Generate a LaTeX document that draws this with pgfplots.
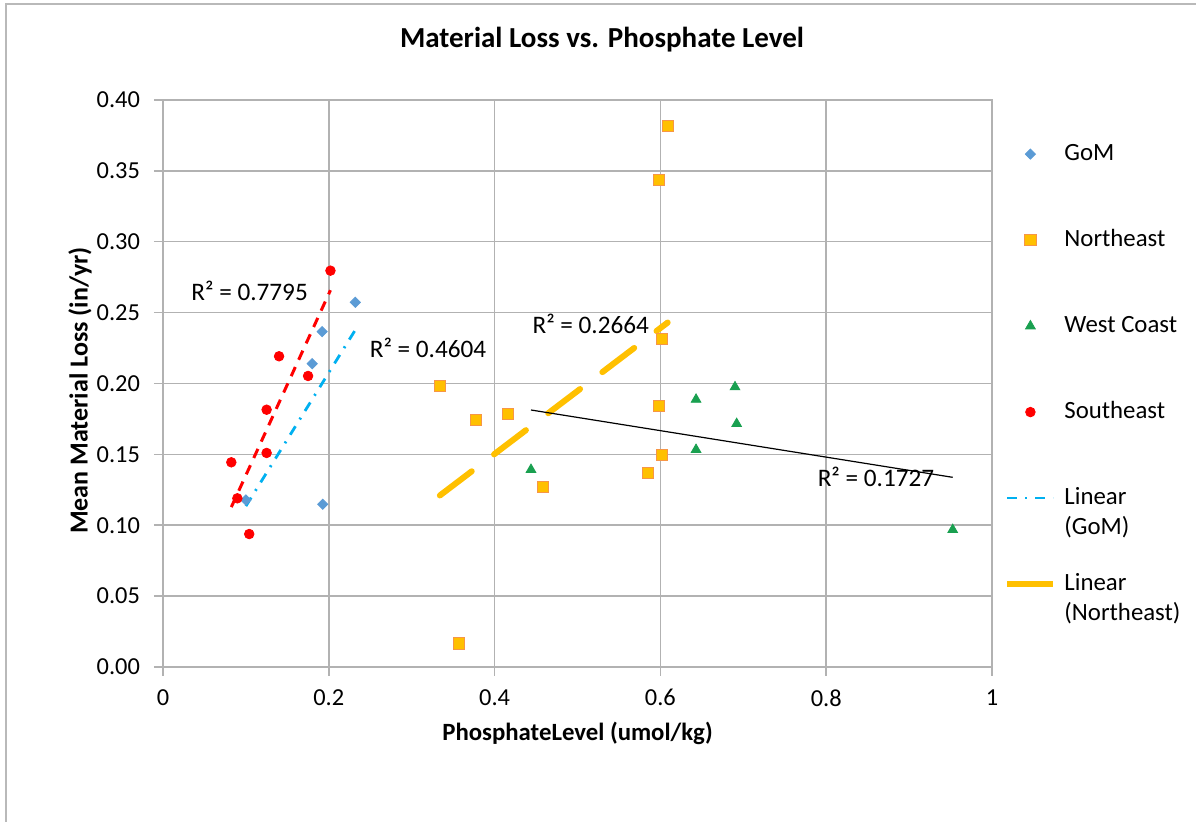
\documentclass[border=0pt]{standalone}
\usepackage{fontspec}
\setmainfont{Carlito}
\usepackage{pgfplots}
\pgfplotsset{compat=1.18}
\definecolor{gomblue}{RGB}{91,155,213}
\definecolor{nefill}{RGB}{255,192,0}
\definecolor{needge}{RGB}{247,150,70}
\definecolor{wcgreen}{RGB}{25,160,80}
\definecolor{sered}{RGB}{255,0,0}
\definecolor{trcyan}{RGB}{0,176,240}
\definecolor{tryellow}{RGB}{255,192,0}
\definecolor{gridgray}{RGB}{178,178,178}
\begin{document}
\begin{tikzpicture}[x=1pt,y=1pt]
\useasboundingbox (0,0) rectangle (598,411);
\draw[gray!55, line width=0.9pt] (3,0) -- (3,409) -- (598,409);
\node[font=\fontsize{14.5}{17}\selectfont\bfseries] at (301,391) {Material Loss vs. Phosphate Level};
\begin{axis}[
  at={(81.5pt,77.5pt)}, anchor=south west,
  scale only axis, width=414.5pt, height=283.5pt,
  xmin=0, xmax=1, ymin=0, ymax=0.4,
  xtick={0,0.2,0.4,0.6,0.8,1},
  ytick={0,0.05,0.1,0.15,0.2,0.25,0.3,0.35,0.4},
  grid=major,
  major grid style={gridgray, line width=0.75pt},
  axis line style={gridgray, line width=0.75pt},
  tick style={gridgray, line width=0.75pt},
  tick align=outside, tick pos=left,
  major tick length=4.5pt,
  /pgf/number format/assume math mode=true,
  tick label style={font=\fontsize{12.2}{14}\selectfont, black},
  yticklabel style={xshift=-3.5pt, /pgf/number format/.cd, fixed, fixed zerofill, precision=2},
  xticklabel style={yshift=-3.2pt, /pgf/number format/.cd, fixed, precision=1},
  xlabel={PhosphateLevel (umol/kg)},
  ylabel={Mean Material Loss (in/yr)},
  xlabel style={font=\fontsize{12.4}{14}\selectfont\bfseries, at={(axis description cs:0.5,-0.1164)}, anchor=center},
  ylabel style={font=\fontsize{13}{15}\selectfont\bfseries, at={(axis description cs:-0.1001,0.4877)}, anchor=center},
  legend style={at={(axis description cs:1.0145,0.930)}, anchor=north west,
    draw=none, fill=none, inner sep=0pt, row sep=29pt, column sep=3pt,
    font=\fontsize{12.4}{15}\selectfont,
    nodes={inner sep=1pt, text height=9pt, text depth=3pt}},
  legend cell align=left,
  legend image code/.code={\draw[mark repeat=2,mark phase=2,#1] plot coordinates {(0pt,0pt) (11.5pt,0pt) (23pt,0pt)};},
]
% GoM
\addplot[only marks, mark=square*, mark size=1.8pt, mark options={rotate=45}, color=gomblue] coordinates {
  (0.232,0.2573) (0.192,0.2366) (0.180,0.2140) (0.100,0.1178) (0.1926,0.1148)
};
\addlegendentry{GoM}
% Northeast
\addplot[only marks, mark=square*, mark size=2.8pt, draw=needge, fill=nefill, line width=0.5pt] coordinates {
  (0.6088,0.3814) (0.598,0.3438) (0.6023,0.2314) (0.334,0.1985) (0.3776,0.1743)
  (0.416,0.1783) (0.598,0.1839) (0.6023,0.1496) (0.585,0.1369) (0.4588,0.1272)
  (0.357,0.0165)
};
\addlegendentry{Northeast}
% West Coast
\addplot[only marks, mark=triangle*, mark size=2.8pt, color=wcgreen] coordinates {
  (0.690,0.1975) (0.643,0.1887) (0.692,0.1716) (0.643,0.1533) (0.9526,0.0968) (0.4439,0.1392)
};
\addlegendentry{West Coast}
% Southeast
\addplot[only marks, mark=*, mark size=2.4pt, color=sered] coordinates {
  (0.202,0.2796) (0.140,0.2192) (0.175,0.2053) (0.125,0.1815) (0.125,0.1510)
  (0.0824,0.1444) (0.0897,0.1190) (0.104,0.0938)
};
\addlegendentry{Southeast}
\addlegendimage{trcyan, line width=1.4pt, dash pattern=on 5pt off 4pt on 1pt off 4pt}
\addlegendentry{\raisebox{0pt}[9pt][3pt]{\vtop{\hbox{Linear}\hbox{(GoM)}}}}
\addlegendimage{tryellow, line width=3pt}
\addlegendentry{\raisebox{0pt}[9pt][3pt]{\vtop{\hbox{Linear}\hbox{(Northeast)}}}}
% trendlines
\addplot[forget plot, trcyan, line width=1.4pt, dash pattern=on 5pt off 4pt on 1pt off 4pt] coordinates {(0.100,0.1135) (0.232,0.2378)};
\addplot[forget plot, tryellow, line width=3pt, line cap=round, dash pattern=on 20pt off 14pt] coordinates {(0.334,0.121) (0.6088,0.243)};
\addplot[forget plot, sered, line width=1.5pt, dash pattern=on 5pt off 4pt] coordinates {(0.0824,0.1128) (0.202,0.2658)};
\addplot[forget plot, black, line width=0.6pt] coordinates {(0.4439,0.1813) (0.9526,0.1338)};
% R^2 labels
\node[font=\fontsize{12.6}{15}\selectfont] at (axis cs:0.1045,0.2655) {R² = 0.7795};
\node[font=\fontsize{12.6}{15}\selectfont] at (axis cs:0.3197,0.2251) {R² = 0.4604};
\node[font=\fontsize{12.6}{15}\selectfont] at (axis cs:0.516,0.2420) {R² = 0.2664};
\node[font=\fontsize{12.6}{15}\selectfont] at (axis cs:0.860,0.1338) {R² = 0.1727};
\end{axis}
\end{tikzpicture}
\end{document}
